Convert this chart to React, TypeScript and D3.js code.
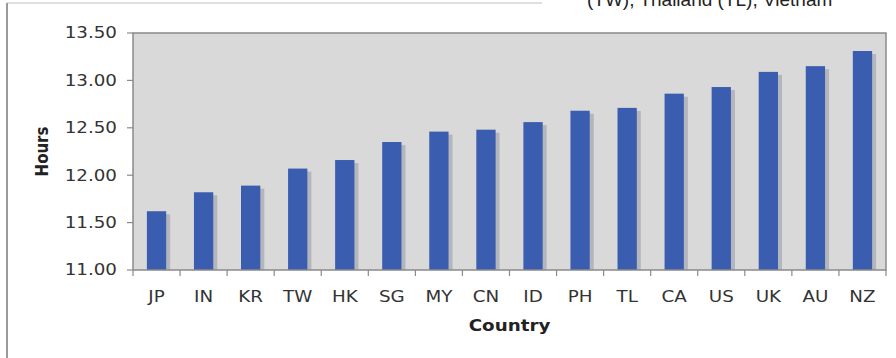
import React from "react";
import * as d3 from "d3";

const countries = ["JP", "IN", "KR", "TW", "HK", "SG", "MY", "CN", "ID", "PH", "TL", "CA", "US", "UK", "AU", "NZ"];
const hours = [11.62, 11.82, 11.89, 12.07, 12.16, 12.35, 12.46, 12.48, 12.56, 12.68, 12.71, 12.86, 12.93, 13.09, 13.15, 13.31];
const yTicks = [11.0, 11.5, 12.0, 12.5, 13.0, 13.5];

const W = 896;
const H = 358;
const plot = { left: 133, right: 886, top: 33, bottom: 270 };
const SX = 1.22; // horizontal text stretch
const FONT = "'DejaVu Sans', Verdana, sans-serif";

export default function App() {
  const x = d3
    .scaleBand<string>()
    .domain(countries)
    .range([plot.left, plot.right])
    .paddingInner(0.59)
    .paddingOuter(0.295);
  const band = d3.scaleBand<string>().domain(countries).range([plot.left, plot.right]);
  const y = d3.scaleLinear().domain([11, 13.5]).range([plot.bottom, plot.top]);
  const fmt = d3.format(".2f");

  const boundaries = countries.map((c) => band(c) as number).concat([plot.right]);

  return (
    <svg
      width={W}
      height={H}
      style={{ position: "absolute", left: 0, top: 0, background: "#fff" }}
    >
      {/* outer frame */}
      <line x1={7} y1={3} x2={542} y2={3} stroke="#d4d4d4" strokeWidth={1.5} />
      <line x1={7} y1={3} x2={7} y2={H} stroke="#9a9a9a" strokeWidth={2} />
      <text
        x={587}
        y={6}
        fontFamily="'Liberation Sans', Arial, sans-serif"
        fontSize={19}
        fill="#222"
      >
        (TW), Thailand (TL), Vietnam
      </text>

      {/* plot area */}
      <rect
        x={plot.left}
        y={plot.top}
        width={plot.right - plot.left}
        height={plot.bottom - plot.top}
        fill="#d9d9d9"
      />

      {/* bar shadows */}
      {countries.map((c, i) => (
        <rect
          key={"s" + c}
          x={(x(c) as number) + 4}
          y={y(hours[i]) + 3}
          width={x.bandwidth()}
          height={plot.bottom - y(hours[i]) - 3}
          fill="#b4b6bd"
        />
      ))}
      {/* bars */}
      {countries.map((c, i) => (
        <rect
          key={c}
          x={x(c)}
          y={y(hours[i])}
          width={x.bandwidth()}
          height={plot.bottom - y(hours[i])}
          fill="#3b5db0"
        />
      ))}

      {/* plot border */}
      <rect
        x={plot.left}
        y={plot.top}
        width={plot.right - plot.left}
        height={plot.bottom - plot.top}
        fill="none"
        stroke="#8a8a8a"
        strokeWidth={1.5}
      />

      {/* y axis ticks and labels */}
      {yTicks.map((t) => (
        <g key={t}>
          <line x1={plot.left - 6} x2={plot.left} y1={y(t)} y2={y(t)} stroke="#8a8a8a" strokeWidth={1.2} />
          <text
            transform={`translate(117,${y(t)}) scale(${SX},1)`}
            textAnchor="end"
            dominantBaseline="central"
            fontFamily={FONT}
            fontSize={15}
            fill="#333"
          >
            {fmt(t)}
          </text>
        </g>
      ))}

      {/* x axis ticks and labels */}
      {boundaries.map((b, i) => (
        <line key={"t" + i} x1={b} x2={b} y1={plot.bottom} y2={plot.bottom + 6} stroke="#8a8a8a" strokeWidth={1.2} />
      ))}
      {countries.map((c) => (
        <text
          key={"l" + c}
          transform={`translate(${(band(c) as number) + band.bandwidth() / 2},302) scale(${SX},1)`}
          textAnchor="middle"
          fontFamily={FONT}
          fontSize={15}
          fill="#333"
        >
          {c}
        </text>
      ))}

      {/* axis titles */}
      <text
        transform={`translate(${(plot.left + plot.right) / 2},331) scale(${SX},1)`}
        textAnchor="middle"
        fontFamily={FONT}
        fontSize={15}
        fontWeight="bold"
        fill="#222"
      >
        Country
      </text>
      <text
        transform={`translate(48,${(plot.top + plot.bottom) / 2}) scale(${SX},1) rotate(-90)`}
        textAnchor="middle"
        fontFamily={FONT}
        fontSize={15}
        fontWeight="bold"
        fill="#222"
      >
        Hours
      </text>
    </svg>
  );
}
